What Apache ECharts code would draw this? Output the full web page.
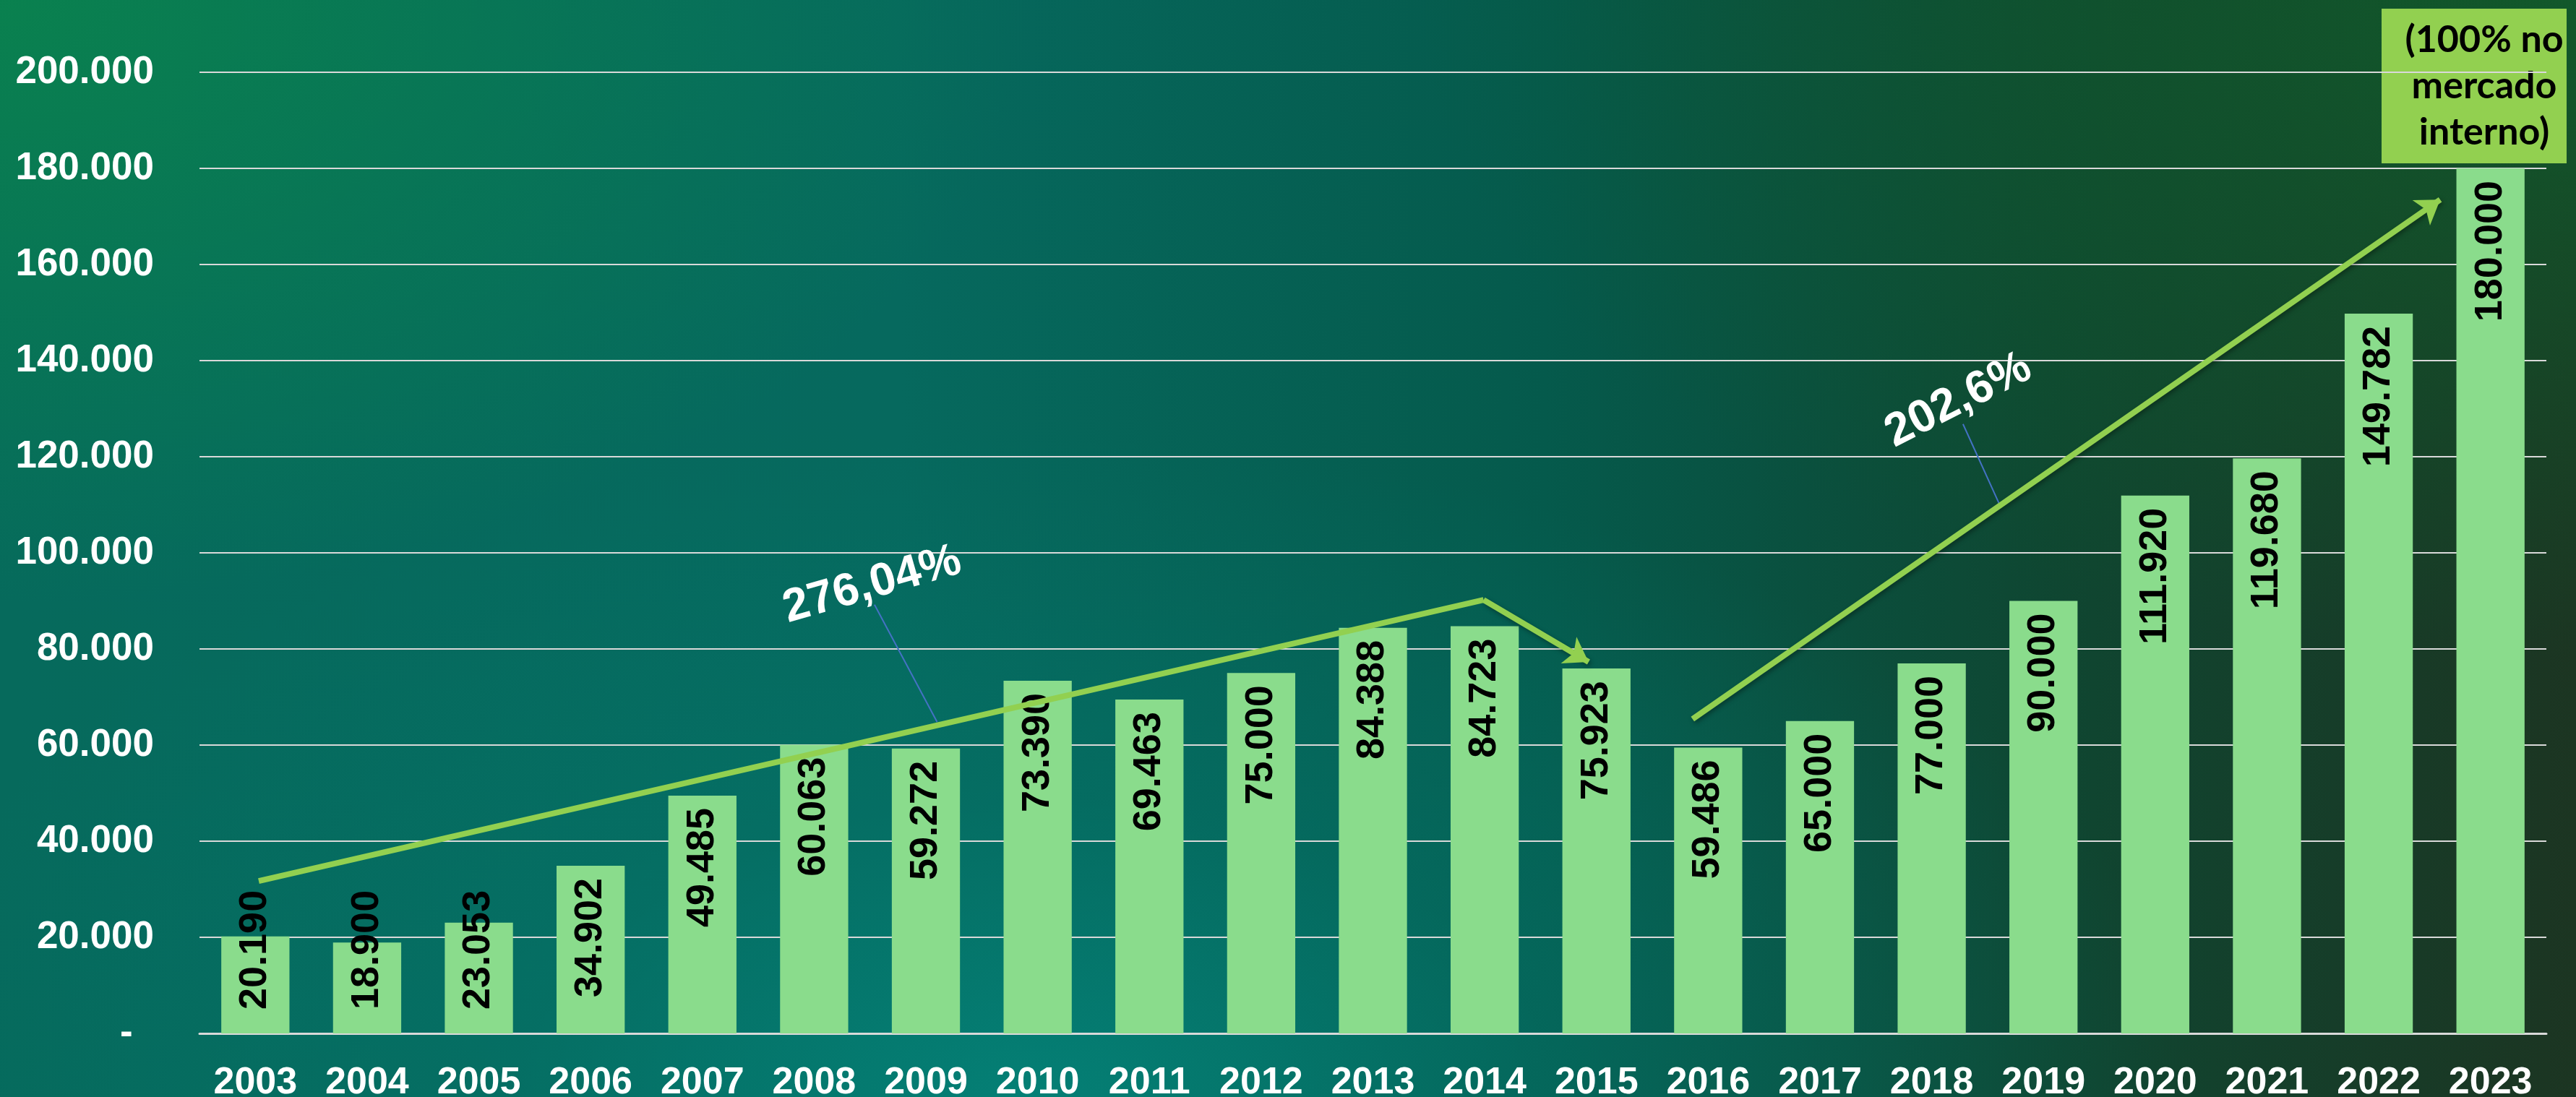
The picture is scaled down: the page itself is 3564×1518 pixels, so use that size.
<!DOCTYPE html>
<html>
<head>
<meta charset="utf-8">
<script src="https://cdn.jsdelivr.net/npm/echarts@6/dist/echarts.min.js"></script>
<style>
  html, body { margin: 0; padding: 0; }
  #grafico {
    width: 3564px;
    height: 1518px;
    background:
      radial-gradient(ellipse 45% 60% at 40% 100%, rgba(4, 130, 120, 0.9) 0%, rgba(4, 115, 105, 0.5) 45%, rgba(4, 100, 90, 0) 100%),
      radial-gradient(ellipse 40% 55% at 0% 0%, rgba(10, 130, 78, 0.95) 0%, rgba(10, 120, 78, 0) 100%),
      radial-gradient(ellipse 45% 60% at 100% 0%, rgba(16, 92, 44, 0.9) 0%, rgba(16, 92, 44, 0) 100%),
      linear-gradient(to right, #066a5c 0%, #06695e 35%, #055a4c 60%, #0f4631 80%, #1c3522 100%);
  }
</style>
</head>
<body>
<div id="grafico"></div>
<script>
(function () {
    // dados do gráfico
    var anos = ['2003', '2004', '2005', '2006', '2007', '2008', '2009', '2010', '2011', '2012', '2013',
        '2014', '2015', '2016', '2017', '2018', '2019', '2020', '2021', '2022', '2023'];
    var producao = [20190, 18900, 23053, 34902, 49485, 60063, 59272, 73390, 69463, 75000, 84388,
        84723, 75923, 59486, 65000, 77000, 90000, 111920, 119680, 149782, 180000];

    // setas (índice do ano, valor)
    var linhaAlta1 = [[0.03, 31700], [10.99, 90200]];
    var setaQueda = [[10.99, 90200], [11.93, 77300]];
    var setaAlta2 = [[12.86, 65400], [19.55, 173500]];

    // rótulos de percentual e suas linhas de chamada
    var percentuais = ['276,04%', '202,6%'];
    var pontosPct = [[5.52, 93300], [15.24, 131700]];
    var giroPct = [16, 27];
    var chamadas = [
        [[5.54, 89200], [6.10, 64800]],
        [[15.28, 126800], [15.61, 109900]]
    ];

    var fonte = "'Liberation Sans', Arial, sans-serif";
    var corSeta = '#92d050';

    function milhar(v) {
        return String(v).replace(/\B(?=(\d{3})+(?!\d))/g, '.');
    }

    var myChart = echarts.init(document.getElementById('grafico'), null, { renderer: 'canvas' });

    // barras curtas: rótulo apoiado na base
    var dadosBarra = producao.map(function (v) {
        if (v < 31500) {
            return {
                value: v,
                label: { position: 'insideBottom', align: 'left', distance: 33 }
            };
        }
        return v;
    });

    var option = {
        backgroundColor: 'transparent',
        animation: false,
        grid: {
            left: 276,
            right: 41,
            top: 100,
            bottom: 88,
            containLabel: false,
            outerBoundsMode: 'none'
        },
        xAxis: [{
            type: 'category',
            data: anos,
            axisTick: { show: false },
            axisLine: { lineStyle: { color: '#d9d9d9', width: 3 } },
            axisLabel: {
                interval: 0,
                margin: 43,
                color: '#ffffff',
                fontFamily: fonte,
                fontWeight: 'bold',
                fontSize: 52
            }
        }, {
            type: 'value',
            min: -0.5,
            max: 20.5,
            show: false
        }],
        yAxis: {
            type: 'value',
            min: 0,
            max: 200000,
            interval: 20000,
            axisLine: { show: false },
            axisTick: { show: false },
            splitLine: { lineStyle: { color: '#d9d9d9', width: 2 } },
            axisLabel: {
                margin: 63,
                color: '#ffffff',
                fontFamily: fonte,
                fontWeight: 'bold',
                fontSize: 53,
                formatter: function (v) {
                    return v === 0 ? '-  ' : milhar(v);
                }
            }
        },
        series: [{
            type: 'bar',
            data: dadosBarra,
            barWidth: '61%',
            itemStyle: { color: '#8adc8c' },
            label: {
                show: true,
                position: 'insideTop',
                rotate: 90,
                align: 'right',
                verticalAlign: 'middle',
                distance: 17,
                color: '#000000',
                fontFamily: fonte,
                fontWeight: 'bold',
                fontSize: 54,
                formatter: function (p) {
                    return milhar(p.value);
                }
            },
            z: 2
        }, {
            type: 'lines',
            coordinateSystem: 'cartesian2d',
            xAxisIndex: 1,
            yAxisIndex: 0,
            silent: true,
            symbol: ['none', 'none'],
            lineStyle: { color: corSeta, width: 8, opacity: 1, curveness: 0 },
            data: [{ coords: linhaAlta1 }],
            z: 5
        }, {
            type: 'lines',
            coordinateSystem: 'cartesian2d',
            xAxisIndex: 1,
            yAxisIndex: 0,
            silent: true,
            symbol: ['none', 'arrow'],
            symbolSize: 32,
            lineStyle: {
                color: corSeta, width: 8, opacity: 1, curveness: 0,
                shadowColor: 'rgba(0,0,0,0.35)', shadowBlur: 6, shadowOffsetX: 2, shadowOffsetY: 3
            },
            data: [{ coords: setaQueda }, { coords: setaAlta2 }],
            z: 5
        }, {
            type: 'lines',
            coordinateSystem: 'cartesian2d',
            xAxisIndex: 1,
            yAxisIndex: 0,
            silent: true,
            symbol: ['none', 'none'],
            lineStyle: { color: '#4472c4', width: 2, opacity: 1, curveness: 0 },
            data: chamadas.map(function (c) { return { coords: c }; }),
            z: 4
        }, {
            type: 'scatter',
            xAxisIndex: 1,
            yAxisIndex: 0,
            silent: true,
            symbolSize: 0,
            itemStyle: { opacity: 1 },
            emphasis: { disabled: true },
            data: pontosPct.map(function (p, i) {
                return {
                    value: p,
                    label: { formatter: percentuais[i], rotate: giroPct[i] }
                };
            }),
            label: {
                show: true,
                position: 'inside',
                color: '#ffffff',
                opacity: 1,
                fontFamily: fonte,
                fontWeight: 'bold',
                fontSize: 64
            },
            z: 6
        }],
        graphic: [{
            type: 'group',
            left: 3295,
            top: 12,
            children: [{
                type: 'rect',
                shape: { x: 0, y: 0, width: 256, height: 214 },
                style: { fill: '#92d050' }
            }, {
                type: 'text',
                x: 142,
                y: 107,
                style: {
                    text: '(100% no\nmercado\ninterno)',
                    fill: '#000000',
                    font: "bold 52px Lato, 'Open Sans', sans-serif",
                    lineHeight: 64,
                    align: 'center',
                    verticalAlign: 'middle'
                }
            }]
        }]
    };

    myChart.setOption(option);

    window.addEventListener('resize', function () {
        myChart.resize();
    });
})();
</script>
</body>
</html>
